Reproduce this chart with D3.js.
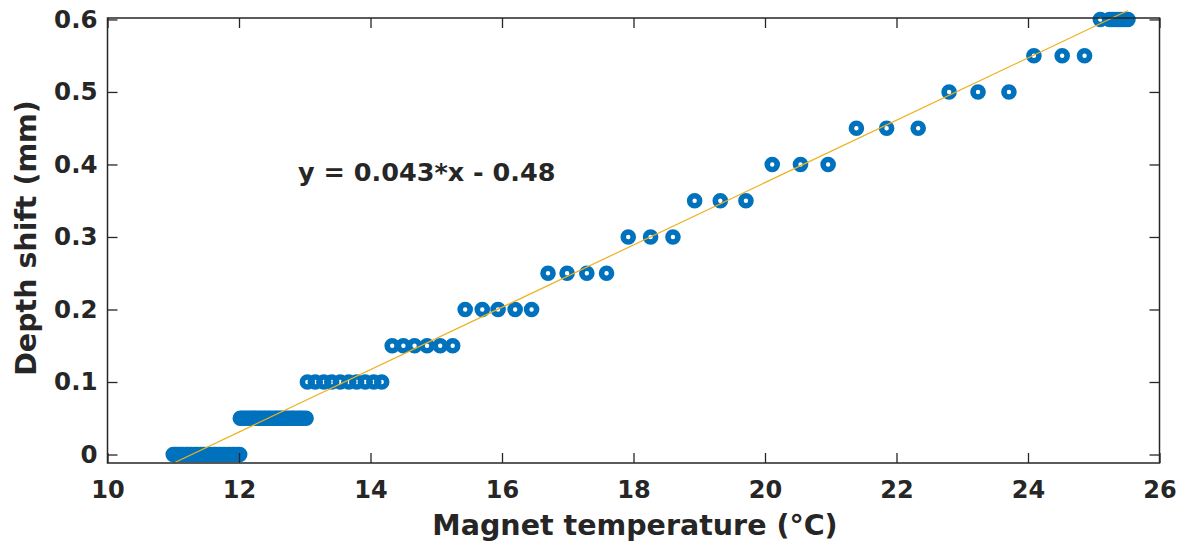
<!DOCTYPE html>
<html>
<head>
<meta charset="utf-8">
<script src="https://cdn.jsdelivr.net/npm/d3@7"></script>
<style>
  body { margin: 0; background: #fff; }
  svg text { font-family: "DejaVu Sans", sans-serif; font-weight: bold; fill: #262626; }
</style>
</head>
<body>
<div id="chart"></div>
<script>
// depth shift levels (mm) and the magnet temperatures (°C) measured at each
const shiftLevels = [0, 0.05, 0.1, 0.15, 0.2, 0.25, 0.3, 0.35, 0.4, 0.45, 0.5, 0.55, 0.6];
const tempGroups = [
  [11.00, 11.03, 11.06, 11.09, 11.12, 11.15, 11.19, 11.22, 11.25, 11.28, 11.32, 11.35, 11.38, 11.42, 11.45, 11.48,
   11.52, 11.55, 11.58, 11.62, 11.65, 11.69, 11.72, 11.76, 11.79, 11.83, 11.86, 11.90, 11.93, 11.97, 12.01],
  [12.02, 12.05, 12.09, 12.12, 12.16, 12.19, 12.23, 12.26, 12.30, 12.33, 12.37, 12.40, 12.44, 12.47, 12.51,
   12.55, 12.58, 12.62, 12.65, 12.69, 12.72, 12.76, 12.80, 12.83, 12.87, 12.91, 12.94, 12.98, 13.02],
  [13.04, 13.16, 13.29, 13.41, 13.54, 13.67, 13.79, 13.92, 14.05, 14.17],
  [14.33, 14.50, 14.67, 14.86, 15.06, 15.25],
  [15.44, 15.70, 15.94, 16.20, 16.45],
  [16.70, 16.99, 17.29, 17.59],
  [17.92, 18.26, 18.60],
  [18.93, 19.32, 19.71],
  [20.11, 20.54, 20.96],
  [21.39, 21.85, 22.33],
  [22.80, 23.24, 23.71],
  [24.09, 24.52, 24.86],
  [25.10, 25.24, 25.28, 25.32, 25.36, 25.40, 25.44, 25.48, 25.52]
];

// linear fit shown in the chart
const fitSlope = 0.043;
const fitIntercept = -0.485;
const fitLabel = "y = 0.043*x - 0.48";

const xTicks = [10, 12, 14, 16, 18, 20, 22, 24, 26];
const yTicks = [0, 0.1, 0.2, 0.3, 0.4, 0.5, 0.6];

const points = shiftLevels.flatMap((s, i) => tempGroups[i].map(t => ({ temp: t, shift: s })));

const width = 1181;
const height = 543;
const plot = { left: 107.5, right: 1159.5, top: 18, bottom: 463 };

const svg = d3.select("#chart")
  .append("svg")
  .attr("width", width)
  .attr("height", height);

const xScale = d3.scaleLinear().domain([10, 26]).range([plot.left, plot.right]);
const yScale = d3.scaleLinear().domain([-0.0117, 0.602]).range([plot.bottom, plot.top]);

// fit line from min to max temperature
const [tMin, tMax] = d3.extent(points, d => d.temp);
const fitLine = [tMin, tMax].map(t => [t, fitSlope * t + fitIntercept]);

svg.append("g")
  .selectAll("circle")
  .data(points)
  .join("circle")
  .attr("cx", d => xScale(d.temp))
  .attr("cy", d => yScale(d.shift))
  .attr("r", 5)
  .attr("fill", "none")
  .attr("stroke", "#0072BD")
  .attr("stroke-width", 5.6);

svg.append("path")
  .datum(fitLine)
  .attr("d", d3.line().x(d => xScale(d[0])).y(d => yScale(d[1])))
  .attr("fill", "none")
  .attr("stroke", "#EDB120")
  .attr("stroke-width", 1.2);

// axes: MATLAB style box with inward ticks on all four sides
const tickLen = 10;
const axisColor = "#262626";

const bottomAxis = svg.append("g")
  .attr("transform", `translate(0, ${plot.bottom})`)
  .call(d3.axisBottom(xScale).tickValues(xTicks).tickSize(-tickLen).tickPadding(0).tickFormat(d3.format("d")));
bottomAxis.selectAll("text").attr("y", 35).attr("dy", 0).style("font-size", "24px");

const topAxis = svg.append("g")
  .attr("transform", `translate(0, ${plot.top})`)
  .call(d3.axisTop(xScale).tickValues(xTicks).tickSize(-tickLen).tickFormat(""));

const leftAxis = svg.append("g")
  .attr("transform", `translate(${plot.left}, 0)`)
  .call(d3.axisLeft(yScale).tickValues(yTicks).tickSize(-tickLen).tickPadding(10).tickFormat(d => d === 0 ? "0" : d3.format(".1f")(d)));
leftAxis.selectAll("text").attr("x", -10).style("font-size", "24.5px");

const rightAxis = svg.append("g")
  .attr("transform", `translate(${plot.right}, 0)`)
  .call(d3.axisRight(yScale).tickValues(yTicks).tickSize(-tickLen).tickFormat(""));

[bottomAxis, topAxis, leftAxis, rightAxis].forEach(g => {
  g.select(".domain").remove();
  g.selectAll("line").attr("stroke", axisColor).attr("stroke-width", 1.3);
  g.selectAll("text").attr("fill", axisColor).attr("font-family", null);
});

svg.append("rect")
  .attr("x", plot.left)
  .attr("y", plot.top)
  .attr("width", plot.right - plot.left)
  .attr("height", plot.bottom - plot.top)
  .attr("fill", "none")
  .attr("stroke", axisColor)
  .attr("stroke-width", 1.5);

svg.append("text")
  .attr("x", 635)
  .attr("y", 535)
  .attr("text-anchor", "middle")
  .style("font-size", "28.5px")
  .text("Magnet temperature (°C)");

svg.append("text")
  .attr("transform", `translate(36, 238) rotate(-90)`)
  .attr("text-anchor", "middle")
  .style("font-size", "28.5px")
  .text("Depth shift (mm)");

svg.append("text")
  .attr("x", 298)
  .attr("y", 181)
  .style("font-size", "25.5px")
  .text(fitLabel);
</script>
</body>
</html>
